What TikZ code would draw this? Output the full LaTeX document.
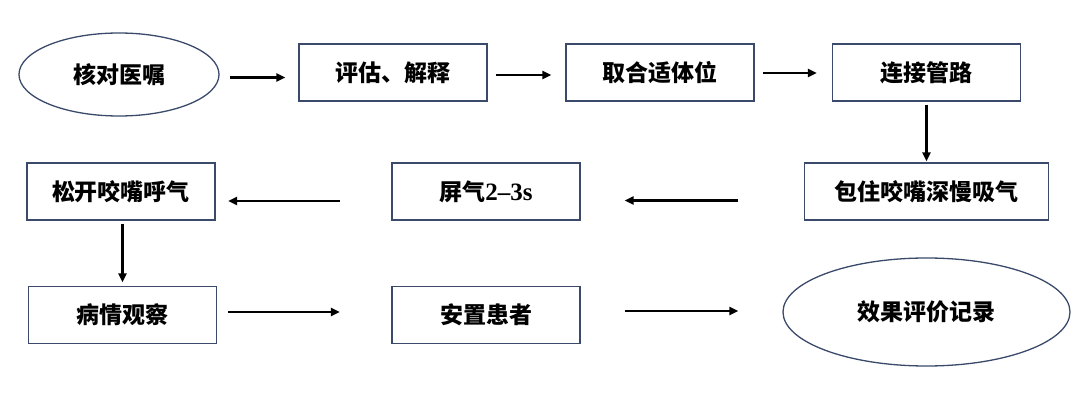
\documentclass[tikz,border=0pt]{standalone}
\usepackage{fontspec}
\setmainfont{Liberation Serif}
\newfontfamily\cjk{Noto Sans CJK SC}
\usetikzlibrary{arrows.meta,shapes.geometric}
\definecolor{bord}{HTML}{3B4A6B}
\begin{document}
\begin{tikzpicture}[x=1pt,y=-1pt,
  lbl/.style={font=\fontsize{23}{26}\selectfont\cjk\bfseries},
  box/.style={lbl,draw=bord,line width=1.3pt,rectangle,inner sep=0pt,minimum width=188pt,minimum height=57pt},
  oval/.style={lbl,draw=bord,line width=1.3pt,ellipse,inner sep=0pt},
  arr/.style={-{Triangle[length=9pt,width=8pt]},line width=2.6pt,black}]
\useasboundingbox (0,0) rectangle (1080,406);
\fill[white] (0,0) rectangle (1080,406);
\node[oval,minimum width=200pt,minimum height=83pt] (n1) at (119,74.5) {核对医嘱};
\node[box] (n2) at (393,72.5) {评估、解释};
\node[box] (n3) at (660,72.5) {取合适体位};
\node[box] (n4) at (926.5,72.5) {连接管路};
\node[box,minimum width=244.5pt] (n5) at (926.5,191.5) {包住咬嘴深慢吸气};
\node[box] (n6) at (486,191.5) {屏气{\fontspec{Liberation Serif}\bfseries\fontsize{25}{26}\selectfont 2–3s}};
\node[box] (n7) at (121,191.5) {松开咬嘴呼气};
\node[box] (n8) at (122.5,315) {病情观察};
\node[box] (n9) at (486,315) {安置患者};
\node[oval,minimum width=287pt,minimum height=108pt] (n10) at (926.5,312) {效果评价记录};
\draw[arr] ([xshift=10pt,yshift=-3pt]n1.east) -- ([xshift=-13pt,yshift=-3pt]n2.west|-n1.east);
\draw[arr] ([xshift=8pt,yshift=-2.5pt]n2.east) -- ([xshift=-14pt,yshift=-2.5pt]n3.west);
\draw[arr] ([xshift=8.5pt,yshift=-0.5pt]n3.east) -- ([xshift=-15pt,yshift=-0.5pt]n4.west);
\draw[arr] ([yshift=-3pt]n4.south) -- ([yshift=1pt]n5.north);
\draw[arr] ([xshift=-65.5pt,yshift=-9pt]n5.west) -- ([xshift=44pt,yshift=-9pt]n6.east);
\draw[arr] ([xshift=-51.5pt,yshift=-9.5pt]n6.west) -- ([xshift=12.5pt,yshift=-9.5pt]n7.east);
\draw[arr] ([xshift=1.5pt,yshift=-3pt]n7.south) -- ([yshift=3.4pt]n8.north);
\draw[arr] ([xshift=11pt,yshift=3pt]n8.east) -- ([xshift=-51.5pt,yshift=3pt]n9.west);
\draw[arr] ([xshift=44pt,yshift=4pt]n9.east) -- ([xshift=-44pt,yshift=4pt]n9.east-|n10.west);
\end{tikzpicture}
\end{document}
